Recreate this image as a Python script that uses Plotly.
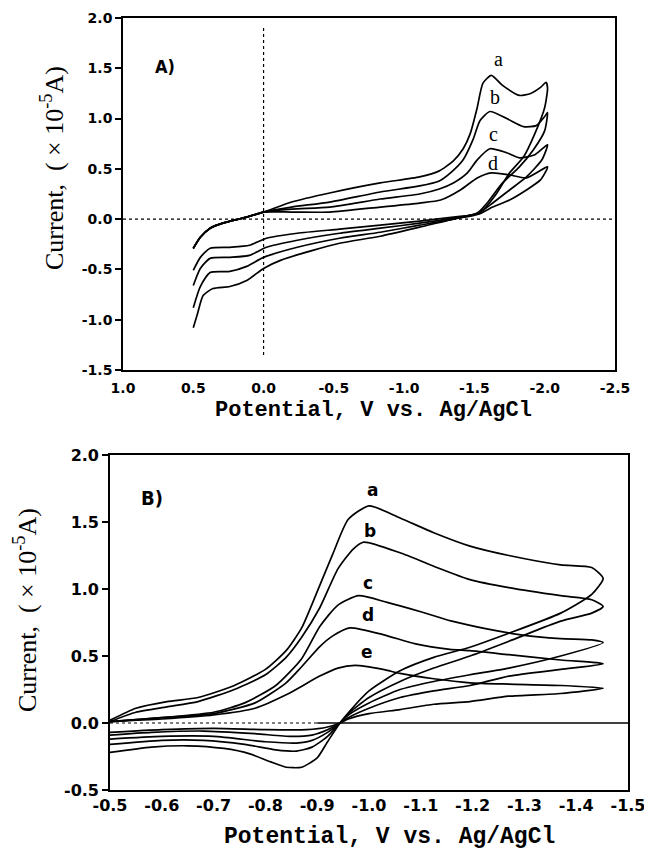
import plotly.graph_objects as go

W, H = 652, 859
OFF = 8  # page body margin in the browser

# ---------------- Panel A data (potential V, current x1e-5 A) ----------------
start_x = [0.50, 0.45, 0.38, 0.29, 0.12, 0.0]
start_y = [-0.29, -0.18, -0.09, -0.04, 0.02, 0.07]

A_a_x = [-0.2, -0.47, -0.83, -1.11, -1.25, -1.35, -1.42, -1.47, -1.52, -1.56, -1.62, -1.70, -1.82, -1.90, -1.97, -2.01, -2.02,
         -2.00, -1.93, -1.85, -1.75, -1.66, -1.56, -1.50,
         -1.35, -1.11, -0.83, -0.54, -0.35, -0.12, 0.0, 0.12, 0.24, 0.36, 0.43, 0.47, 0.50]
A_a_y = [0.17, 0.26, 0.36, 0.42, 0.48, 0.58, 0.70, 0.85, 1.11, 1.35, 1.43, 1.33, 1.23, 1.25, 1.31, 1.36, 1.30,
         1.11, 0.85, 0.62, 0.46, 0.26, 0.09, 0.04,
         0.0, -0.08, -0.17, -0.24, -0.31, -0.41, -0.49, -0.61, -0.67, -0.69, -0.76, -0.94, -1.08]

A_b_x = [-0.2, -0.47, -0.83, -1.11, -1.25, -1.33, -1.42, -1.49, -1.54, -1.61, -1.73, -1.85, -1.94, -2.0, -2.02,
         -2.0, -1.92, -1.82, -1.70, -1.59, -1.52,
         -1.35, -1.11, -0.83, -0.54, -0.24, 0.0, 0.12, 0.24, 0.38, 0.45, 0.50]
A_b_y = [0.12, 0.17, 0.27, 0.33, 0.38, 0.46, 0.59, 0.79, 0.98, 1.07, 1.00, 0.92, 0.93, 1.02, 1.06,
         0.88, 0.69, 0.52, 0.36, 0.16, 0.06,
         0.0, -0.06, -0.13, -0.19, -0.28, -0.38, -0.47, -0.52, -0.53, -0.67, -0.88]

A_c_x = [-0.2, -0.47, -0.83, -1.11, -1.25, -1.35, -1.45, -1.52, -1.61, -1.73, -1.82, -1.93, -2.02,
         -1.98, -1.87, -1.75, -1.63, -1.53,
         -1.35, -1.11, -0.83, -0.54, -0.24, -0.02, 0.10, 0.24, 0.38, 0.45, 0.50]
A_c_y = [0.10, 0.12, 0.20, 0.25, 0.30, 0.36, 0.46, 0.59, 0.70, 0.66, 0.61, 0.64, 0.74,
         0.59, 0.42, 0.29, 0.16, 0.06,
         0.01, -0.04, -0.09, -0.14, -0.21, -0.28, -0.36, -0.38, -0.39, -0.49, -0.66]

A_d_x = [-0.2, -0.47, -0.83, -1.11, -1.26, -1.40, -1.52, -1.62, -1.75, -1.87, -2.02,
         -1.97, -1.87, -1.75, -1.63, -1.53,
         -1.35, -1.11, -0.83, -0.54, -0.24, -0.02, 0.10, 0.24, 0.38, 0.45, 0.50]
A_d_y = [0.07, 0.07, 0.12, 0.16, 0.19, 0.29, 0.41, 0.46, 0.44, 0.41, 0.52,
         0.39, 0.29, 0.19, 0.12, 0.05,
         0.02, -0.02, -0.06, -0.10, -0.14, -0.19, -0.26, -0.28, -0.29, -0.38, -0.51]

# ---------------- Panel B data ----------------
B_a_x = [-0.50, -0.55, -0.61, -0.67, -0.74, -0.80, -0.84, -0.87, -0.90, -0.93, -0.96, -1.00, -1.06, -1.125, -1.195, -1.27, -1.37, -1.43, -1.452,
         -1.43, -1.37, -1.27, -1.19, -1.125, -1.06, -1.00, -0.963, -0.944,
         -0.92, -0.90, -0.87, -0.84, -0.81, -0.77, -0.72, -0.65, -0.58, -0.50]
B_a_y = [0.02, 0.11, 0.16, 0.19, 0.28, 0.40, 0.54, 0.71, 0.98, 1.26, 1.52, 1.62, 1.53, 1.42, 1.32, 1.25, 1.18, 1.16, 1.08,
         0.96, 0.82, 0.67, 0.56, 0.49, 0.39, 0.24, 0.09, 0.0,
         -0.14, -0.26, -0.33, -0.33, -0.29, -0.23, -0.19, -0.17, -0.18, -0.22]

B_b_x = [-0.50, -0.55, -0.61, -0.67, -0.74, -0.80, -0.84, -0.87, -0.905, -0.94, -0.97, -0.99, -1.06, -1.125, -1.195, -1.27, -1.37, -1.43, -1.452,
         -1.43, -1.37, -1.27, -1.195, -1.125, -1.06, -1.00, -0.96, -0.944,
         -0.92, -0.89, -0.86, -0.82, -0.76, -0.68, -0.60, -0.50]
B_b_y = [0.01, 0.08, 0.12, 0.16, 0.25, 0.36, 0.49, 0.64, 0.86, 1.15, 1.30, 1.35, 1.27, 1.17, 1.07, 1.01, 0.95, 0.92, 0.87,
         0.82, 0.76, 0.61, 0.50, 0.41, 0.31, 0.19, 0.07, 0.0,
         -0.10, -0.18, -0.21, -0.20, -0.16, -0.13, -0.13, -0.16]

B_c_x = [-0.50, -0.60, -0.70, -0.76, -0.82, -0.87, -0.905, -0.94, -0.98, -1.035, -1.10, -1.16, -1.23, -1.29, -1.37, -1.43, -1.452,
         -1.37, -1.27, -1.195, -1.125, -1.06, -1.00, -0.96, -0.944,
         -0.92, -0.89, -0.86, -0.80, -0.70, -0.60, -0.50]
B_c_y = [0.01, 0.04, 0.08, 0.15, 0.28, 0.48, 0.72, 0.88, 0.95, 0.90, 0.83, 0.76, 0.70, 0.66, 0.63, 0.62, 0.60,
         0.50, 0.41, 0.36, 0.31, 0.25, 0.15, 0.06, 0.0,
         -0.07, -0.13, -0.15, -0.14, -0.10, -0.10, -0.12]

B_d_x = [-0.50, -0.60, -0.70, -0.78, -0.84, -0.87, -0.905, -0.93, -0.963, -1.027, -1.09, -1.156, -1.195, -1.27, -1.37, -1.44, -1.452,
         -1.37, -1.27, -1.195, -1.125, -1.06, -1.00, -0.96, -0.944,
         -0.92, -0.89, -0.85, -0.78, -0.68, -0.58, -0.50]
B_d_y = [0.01, 0.04, 0.07, 0.15, 0.30, 0.42, 0.57, 0.65, 0.71, 0.66, 0.59, 0.55, 0.54, 0.51, 0.47, 0.45, 0.44,
         0.40, 0.35, 0.28, 0.24, 0.19, 0.11, 0.04, 0.0,
         -0.05, -0.09, -0.10, -0.08, -0.06, -0.07, -0.09]

B_e_x = [-0.50, -0.60, -0.70, -0.78, -0.84, -0.905, -0.94, -0.973, -1.027, -1.06, -1.125, -1.195, -1.27, -1.37, -1.452,
         -1.37, -1.27, -1.195, -1.125, -1.06, -1.00, -0.96, -0.944,
         -0.92, -0.88, -0.80, -0.70, -0.60, -0.50]
B_e_y = [0.01, 0.03, 0.06, 0.11, 0.21, 0.35, 0.41, 0.43, 0.40, 0.37, 0.33, 0.30, 0.29, 0.28, 0.26,
         0.22, 0.20, 0.16, 0.14, 0.10, 0.07, 0.03, 0.0,
         -0.03, -0.05, -0.05, -0.04, -0.05, -0.07]

A_xticks = [1.0, 0.5, 0.0, -0.5, -1.0, -1.5, -2.0, -2.5]
A_xticktext = ["1.0", "0.5", "0.0", "-0.5", "-1.0", "-1.5", "-2.0", "-2.5"]
A_yticks = [2.0, 1.5, 1.0, 0.5, 0.0, -0.5, -1.0, -1.5]
A_yticktext = ["2.0", "1.5", "1.0", "0.5", "0.0", "-0.5", "-1.0", "-1.5"]
B_xticks = [-0.5, -0.6, -0.7, -0.8, -0.9, -1.0, -1.1, -1.2, -1.3, -1.4, -1.5]
B_xticktext = ["-0.5", "-0.6", "-0.7", "-0.8", "-0.9", "-1.0", "-1.1", "-1.2", "-1.3", "-1.4", "-1.5"]
B_yticks = [2.0, 1.5, 1.0, 0.5, 0.0, -0.5]
B_yticktext = ["2.0", "1.5", "1.0", "0.5", "0.0", "-0.5"]

fig = go.Figure()
line = dict(color="black", width=1.7, shape="spline", smoothing=0.6)

for xs, ys in [(A_a_x, A_a_y), (A_b_x, A_b_y), (A_c_x, A_c_y), (A_d_x, A_d_y)]:
    fig.add_trace(go.Scatter(x=start_x + xs, y=start_y + ys, mode="lines", line=line,
                             xaxis="x", yaxis="y", showlegend=False, hoverinfo="skip"))
for xs, ys in [(B_a_x, B_a_y), (B_b_x, B_b_y), (B_c_x, B_c_y), (B_d_x, B_d_y), (B_e_x, B_e_y)]:
    fig.add_trace(go.Scatter(x=xs, y=ys, mode="lines", line=line,
                             xaxis="x2", yaxis="y2", showlegend=False, hoverinfo="skip"))

def px(x):
    return (x - OFF) / W

def py(y):
    return 1 - (y - OFF) / H

tickfontA = dict(family="DejaVu Sans", size=14, color="black", weight="bold")
tickfontB = dict(family="DejaVu Sans", size=16, color="black", weight="bold")
common = dict(showline=True, linecolor="black", linewidth=1.6, mirror=True,
              showgrid=False, zeroline=False, automargin=False)

fig.update_layout(
    template="none",
    width=W, height=H, margin=dict(l=0, r=0, t=0, b=0, pad=0, autoexpand=False),
    paper_bgcolor="white", plot_bgcolor="white",
    xaxis=dict(domain=[px(123), px(615)], range=[1.0, -2.5], tickvals=A_xticks, ticktext=A_xticktext,
               ticks="", tickfont=tickfontA, ticklabelstandoff=4, anchor="y", **common),
    yaxis=dict(domain=[py(370), py(18)], range=[-1.5, 2.0], tickvals=A_yticks, ticktext=A_yticktext,
               ticks="outside", ticklen=6, tickwidth=1.5, tickcolor="black", tickfont=tickfontA,
               anchor="x", **common),
    xaxis2=dict(domain=[px(110), px(628)], range=[-0.5, -1.5], tickvals=B_xticks, ticktext=B_xticktext,
                ticks="", tickfont=tickfontB, ticklabelstandoff=0, anchor="y2", **common),
    yaxis2=dict(domain=[py(790), py(455)], range=[-0.5, 2.0], tickvals=B_yticks, ticktext=B_yticktext,
                ticks="outside", ticklen=6, tickwidth=1.5, tickcolor="black", tickfont=tickfontB,
                anchor="x2", **common),
)

# reference lines
fig.add_shape(type="line", xref="x", yref="y", x0=1.0, x1=-2.5, y0=0, y1=0,
              line=dict(color="black", width=1.2, dash="dot"))
fig.add_shape(type="line", xref="x", yref="y", x0=0, x1=0, y0=1.9, y1=-1.35,
              line=dict(color="black", width=1.2, dash="dot"))
fig.add_shape(type="line", xref="x2", yref="y2", x0=-0.5, x1=-0.9, y0=0, y1=0,
              line=dict(color="black", width=1.0, dash="dot"))
fig.add_shape(type="line", xref="x2", yref="y2", x0=-0.9, x1=-1.5, y0=0, y1=0,
              line=dict(color="black", width=1.3))

ann = []
serif = "Liberation Serif"
# panel labels
ann.append(dict(x=px(165), y=py(66), text="<b>A)</b>", font=dict(family="DejaVu Sans Condensed", size=18, color="black")))
ann.append(dict(x=px(152), y=py(498), text="<b>B)</b>", font=dict(family="DejaVu Sans Condensed", size=20, color="black")))
# curve labels A
for t, x, y in [("a", 498, 59), ("b", 495, 97), ("c", 493, 134), ("d", 493, 163)]:
    ann.append(dict(x=px(x), y=py(y), text=t, font=dict(family=serif, size=20, color="black")))
# curve labels B
for t, x, y in [("a", 372, 490), ("b", 370, 531), ("c", 368, 583), ("d", 368, 615), ("e", 367, 652)]:
    ann.append(dict(x=px(x), y=py(y), text="<b>" + t + "</b>", font=dict(family="DejaVu Sans", size=17, color="black")))
# axis titles
ytitle = "Current,\u00a0 (\u00a0×\u00a010<sup>-5</sup>A)"
ann.append(dict(x=px(53), y=py(168), text=ytitle, textangle=-90, font=dict(family=serif, size=26, color="black")))
ann.append(dict(x=px(25), y=py(610), text=ytitle, textangle=-90, font=dict(family=serif, size=26, color="black")))
xtitle = "Potential,\u00a0V\u00a0vs.\u00a0Ag/AgCl"
ann.append(dict(x=px(373), y=py(410), text=xtitle, font=dict(family="Liberation Mono", size=22, color="black", weight="bold")))
ann.append(dict(x=px(390), y=py(837), text=xtitle, font=dict(family="Liberation Mono", size=23, color="black", weight="bold")))

for a in ann:
    a.update(xref="paper", yref="paper", showarrow=False, xanchor="center", yanchor="middle")
fig.update_layout(annotations=ann)

fig.write_html("out.html")
